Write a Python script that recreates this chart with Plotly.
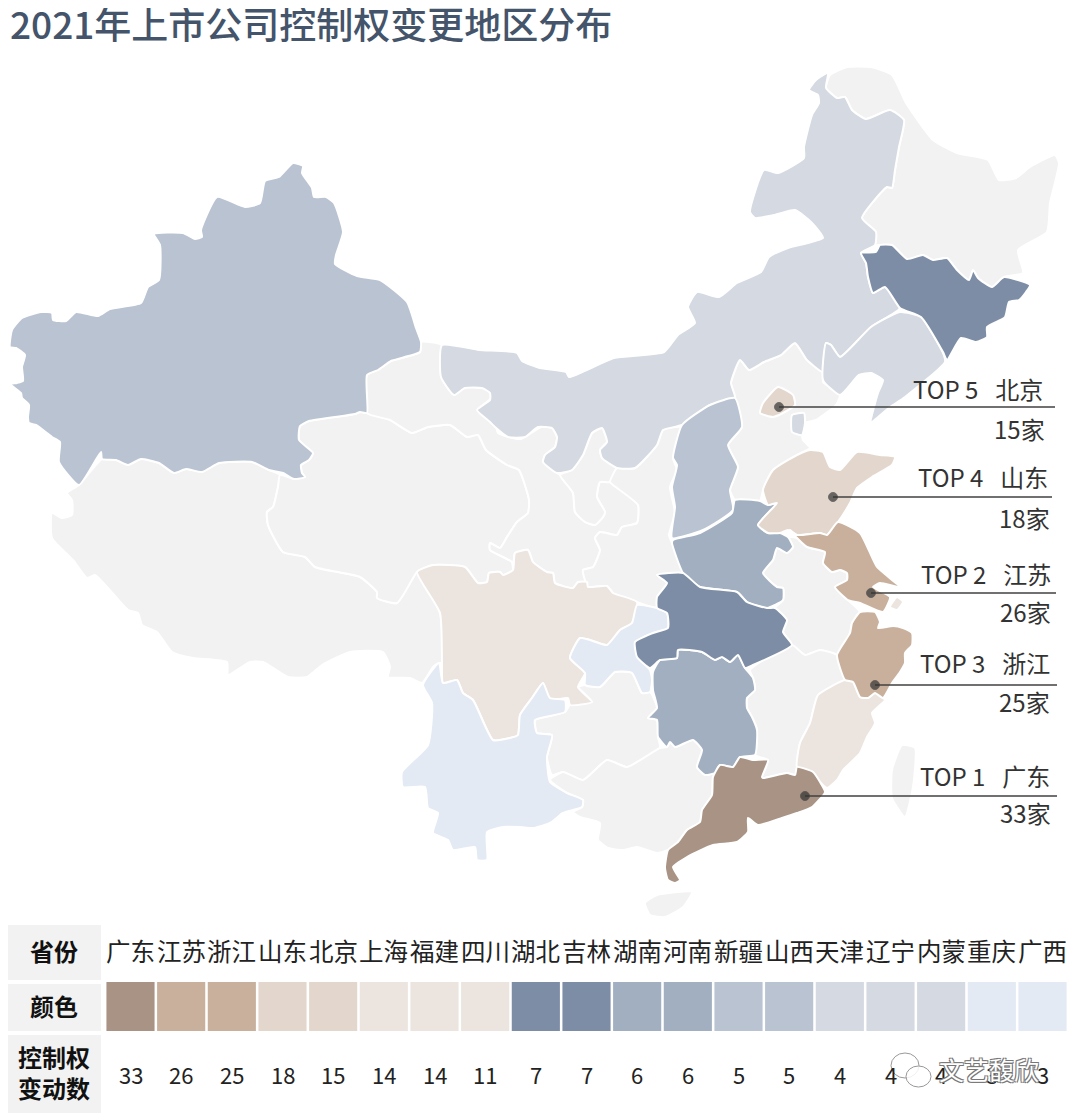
import plotly.graph_objects as go

# table at the bottom
provinces = ['广东', '江苏', '浙江', '山东', '北京', '上海', '福建', '四川', '湖北', '吉林',
             '湖南', '河南', '新疆', '山西', '天津', '辽宁', '内蒙', '重庆', '广西']
counts = [33, 26, 25, 18, 15, 14, 14, 11, 7, 7, 6, 6, 5, 5, 4, 4, 4, 3, 3]
cell_colors = ['#a89384', '#c9b09c', '#c9b09c', '#e3d7cd', '#e3d7cd', '#ece5df', '#ece5df', '#ece5df',
               '#7c8da5', '#7c8da5', '#a1afc0', '#a1afc0', '#b9c3d1', '#b9c3d1',
               '#d4d9e2', '#d4d9e2', '#d4d9e2', '#e3eaf4', '#e3eaf4']

# callouts
top_ranks = ['TOP 5', 'TOP 4', 'TOP 2', 'TOP 3', 'TOP 1']
top_names = ['北京', '山东', '江苏', '浙江', '广东']

NO_DATA = '#f2f2f2'

# province outlines
xinjiang = [(293,163),(303,166),(302,173),(312,188),(314,197),(326,197),(334,203),(343,232),(336,255),(335,264),
            (357,276),(380,280),(407,302),(416,328),(421,342),(420,352),(391,361),(378,370),(367,375),(367,413),
            (360,412),(355,414),(309,421),(300,426),(299,440),(313,453),(309,460),(301,465),(302,473),(305,477),
            (294,479),(283,473),(269,470),(252,462),(219,463),(202,472),(186,469),(174,473),(159,463),(141,459),
            (128,465),(116,460),(102,459),(101,452),(79,485),(59,462),(60,442),(52,437),(36,425),(29,423),(28,417),
            (29,405),(22,398),(21,393),(10,384),(17,383),(23,381),(22,367),(25,355),(16,348),(10,347),(12,330),
            (22,318),(41,312),(52,313),(53,320),(66,321),(76,312),(98,316),(110,309),(141,303),(148,287),(159,280),
            (160,245),(154,234),(183,233),(195,239),(202,237),(201,230),(217,197),(245,207),(260,203),(265,181),(279,177)]
xizang = [(79,485),(102,459),(116,460),(128,465),(141,459),(159,463),(174,473),(186,469),(202,472),(219,463),
          (252,462),(269,470),(280,475),(278,487),(273,507),(267,512),(268,525),(283,552),(305,557),(315,567),
          (360,577),(377,592),(377,598),(397,603),(413,578),(417,572),(440,613),(442,663),(439,663),(433,667),
          (422,683),(410,678),(388,677),(390,667),(383,652),(350,652),(322,665),(307,677),(288,677),(263,662),
          (250,662),(228,675),(227,662),(193,658),(172,652),(157,632),(142,625),(138,613),(128,610),(95,575),
          (87,578),(73,560),(52,538),(52,513),(62,518),(72,515),(72,500),(67,493)]
qinghai = [(300,426),(309,421),(355,414),(360,412),(367,413),(390,420),(412,433),(428,427),(450,425),(467,437),
           (478,435),(486,450),(507,465),(519,470),(529,500),(528,513),(517,522),(507,537),(500,548),(490,543),
           (490,550),(512,562),(513,570),(503,575),(500,572),(489,573),(487,582),(478,583),(465,567),(433,565),
           (417,572),(413,578),(397,603),(377,598),(377,592),(360,577),(315,567),(305,557),(283,552),(268,525),
           (267,512),(273,507),(278,487),(280,475),(294,479),(305,477),(302,473),(301,465),(309,460),(313,453),(299,440)]
gansu = [(367,375),(378,370),(391,361),(420,352),(421,342),(442,345),(441,377),(454,395),(465,387),(490,390),
         (491,398),(478,410),(495,423),(498,433),(521,439),(541,427),(552,428),(557,437),(555,447),(545,455),
         (543,462),(557,473),(560,475),(573,493),(575,512),(585,522),(595,525),(603,517),(605,512),(597,497),
         (600,482),(610,482),(638,505),(637,523),(622,527),(617,535),(600,532),(595,538),(600,550),(593,567),
         (583,570),(587,582),(578,582),(573,588),(555,583),(553,573),(547,572),(533,562),(528,550),(515,553),
         (513,570),(512,562),(490,550),(490,543),(500,548),(507,537),(517,522),(528,513),(529,500),(519,470),
         (507,465),(486,450),(478,435),(467,437),(450,425),(428,427),(412,433),(390,420),(367,413)]
neimenggu = [(442,345),(479,350),(517,353),(522,361),(540,368),(566,372),(569,377),(614,358),(664,352),(678,335),
             (695,323),(688,307),(697,292),(719,297),(737,283),(761,272),(769,257),(788,248),(823,238),(812,223),
             (795,210),(774,215),(755,218),(750,212),(764,170),(778,173),(804,158),(804,147),(812,115),(819,103),
             (818,95),(809,90),(816,80),(828,73),(826,88),(837,98),(845,97),(852,110),(866,119),(890,110),(904,120),
             (899,147),(895,170),(892,188),(887,187),(862,218),(876,232),(875,245),(861,253),(866,263),(868,277),
             (873,293),(885,287),(900,308),(871,327),(840,357),(831,345),(826,343),(823,372),(807,360),(795,343),
             (781,355),(764,362),(749,370),(740,360),(731,383),(735,398),(710,405),(682,425),(663,430),(657,445),
             (635,468),(617,468),(602,458),(600,450),(607,442),(602,428),(592,433),(583,455),(572,470),(557,473),
             (543,462),(545,455),(555,447),(557,437),(552,428),(538,427),(525,437),(508,437),(495,427),(490,422),
             (477,410),(490,400),(490,393),(482,388),(465,388),(454,395),(441,377)]
heilongjiang = [(830,75),(826,88),(837,98),(845,97),(852,110),(866,119),(890,110),(904,120),(899,147),(895,170),
                (892,188),(887,187),(862,218),(876,232),(875,245),(880,245),(892,245),(907,259),(923,255),(933,260),
                (947,258),(957,270),(969,280),(973,270),(978,278),(992,287),(1004,277),(1023,273),(1018,250),
                (1047,232),(1050,203),(1059,163),(1055,155),(1030,167),(1016,178),(999,180),(988,160),(957,153),
                (933,140),(906,103),(892,75),(871,67),(847,67)]
jilin = [(861,253),(876,252),(880,245),(892,245),(907,259),(923,255),(933,260),(947,258),(957,270),(969,280),
         (973,270),(978,278),(992,287),(1004,277),(1030,285),(1026,292),(1019,300),(1009,302),(1005,317),(987,327),
         (987,337),(976,342),(961,338),(947,360),(943,352),(921,317),(900,308),(885,287),(873,293),(868,277),(866,263)]
liaoning = [(823,380),(826,343),(831,345),(840,357),(871,327),(900,312),(921,317),(943,353),(945,362),(905,397),
            (890,407),(871,422),(878,393),(883,380),(871,373),(859,375),(840,395)]
hebei = [(731,383),(740,360),(749,370),(764,362),(781,355),(795,343),(807,360),(823,372),(823,382),(840,395),
         (836,405),(816,420),(805,423),(802,435),(803,440),(810,448),(797,455),(773,470),(763,490),(760,501),
         (735,500),(730,490),(738,467),(728,445),(742,427),(735,398)]
beijing = [(778,387),(793,395),(795,405),(783,413),(773,417),(760,413),(763,403)]
tianjin = [(792,415),(804,413),(805,423),(802,435),(792,432)]
shanxi = [(682,425),(710,405),(735,398),(742,427),(728,445),(738,467),(730,490),(733,510),(703,530),(672,538),
          (675,507),(672,487),(677,465),(673,458)]
shaanxi = [(617,468),(635,468),(657,445),(663,430),(683,427),(673,458),(677,470),(670,487),(675,513),(669,535),
           (672,543),(685,572),(657,575),(667,583),(657,597),(657,608),(637,602),(613,593),(607,586),(588,587),
           (583,570),(593,567),(600,550),(595,538),(600,532),(617,535),(622,527),(637,523),(638,505),(613,485),(610,482)]
ningxia = [(560,475),(572,470),(583,455),(592,433),(602,428),(607,442),(600,450),(602,458),(617,468),(610,482),
           (600,482),(597,497),(605,512),(603,517),(595,525),(585,522),(575,512),(573,493)]
henan = [(673,540),(700,533),(732,513),(735,500),(760,501),(768,505),(777,503),(758,525),(768,533),(780,533),
         (788,537),(793,547),(787,553),(777,548),(773,560),(763,573),(777,587),(783,588),(783,600),(767,608),
         (747,602),(737,592),(700,587),(683,573),(672,543)]
shandong = [(758,525),(777,503),(768,505),(763,490),(773,470),(797,455),(810,450),(823,452),(830,467),(840,470),
            (857,452),(880,455),(895,457),(892,465),(872,477),(857,488),(850,503),(838,522),(827,535),(820,533),
            (797,535),(788,530),(780,533),(768,533)]
jiangsu = [(790,530),(797,535),(820,533),(827,535),(838,522),(860,533),(877,567),(900,587),(880,583),(873,587),
           (890,597),(883,612),(860,603),(848,600),(835,587),(847,580),(847,573),(840,570),(832,572),(823,563),
           (825,552),(807,547),(797,538)]
shanghai = [(897,597),(903,602),(897,610),(890,607)]
anhui = [(763,573),(773,560),(777,548),(787,553),(793,547),(788,537),(797,538),(807,547),(825,552),(823,563),
         (832,572),(840,570),(847,573),(847,580),(835,587),(848,600),(860,612),(852,623),(850,633),(837,655),
         (820,650),(805,655),(792,645),(783,632),(787,620),(775,608),(783,600),(783,588),(777,587)]
zhejiang = [(860,612),(875,612),(880,622),(878,628),(893,626),(903,628),(912,633),(912,645),(905,653),(905,663),
            (900,672),(892,683),(883,698),(875,693),(868,698),(860,697),(853,682),(845,680),(837,655),(850,633),(852,623)]
hubei = [(657,575),(683,573),(700,587),(737,592),(747,602),(767,608),(775,608),(787,620),(783,632),(792,645),
         (753,665),(745,668),(738,655),(730,662),(722,657),(715,660),(702,652),(678,650),(677,658),(660,660),
         (650,668),(637,657),(635,642),(653,633),(668,628),(667,613),(657,608),(657,597),(667,583)]
chongqing = [(637,605),(657,608),(667,613),(668,628),(653,633),(635,642),(638,657),(650,670),(652,680),(650,692),
             (642,693),(632,673),(615,672),(600,687),(585,685),(585,673),(570,658),(580,638),(590,640),(607,645),
             (620,630),(632,623)]
sichuan = [(417,572),(433,565),(465,567),(478,583),(487,582),(489,573),(500,572),(503,575),(513,570),(515,553),
           (528,550),(533,562),(547,572),(553,573),(555,583),(573,588),(578,582),(587,582),(588,587),(607,586),
           (613,593),(637,602),(632,623),(620,630),(607,645),(590,640),(580,638),(570,658),(585,673),(578,687),
           (592,702),(570,705),(568,698),(550,700),(543,683),(532,698),(520,715),(518,735),(510,738),(493,740),
           (473,700),(463,693),(457,680),(443,683),(442,663),(440,613)]
yunnan = [(439,663),(443,683),(457,680),(463,693),(473,700),(493,740),(510,738),(518,735),(520,715),(532,698),
          (543,683),(550,698),(565,700),(565,712),(535,720),(537,733),(552,735),(547,757),(550,782),(567,793),
          (583,800),(582,807),(563,813),(550,823),(533,828),(520,827),(503,827),(487,832),(487,860),(477,860),
          (475,847),(453,850),(448,840),(433,833),(438,813),(428,808),(425,787),(403,787),(402,772),(428,745),
          (432,703),(423,685)]
guizhou = [(535,720),(565,712),(570,705),(592,702),(578,687),(585,685),(600,687),(615,672),(632,673),(642,693),
           (650,692),(657,708),(648,718),(657,720),(658,737),(660,748),(627,767),(607,760),(583,780),(563,772),
           (552,775),(547,757),(552,735),(537,733)]
hunan = [(653,672),(660,660),(677,658),(678,650),(702,652),(715,660),(722,657),(730,662),(738,655),(745,668),
         (753,678),(755,690),(747,698),(747,708),(752,717),(757,730),(755,755),(740,757),(733,767),(720,765),
         (715,773),(705,775),(697,767),(702,750),(693,740),(675,747),(670,742),(667,747),(658,737),(657,720),
         (648,718),(657,708),(653,690)]
jiangxi = [(750,670),(792,645),(805,655),(820,650),(837,655),(845,680),(818,695),(810,723),(800,743),(797,767),
           (795,775),(787,773),(763,778),(762,777),(768,760),(755,755),(757,730),(752,717),(747,708),(747,698),
           (755,690),(753,678)]
fujian = [(845,680),(853,682),(860,697),(868,698),(875,693),(885,700),(872,713),(875,723),(867,737),(860,753),
          (843,770),(837,780),(827,788),(820,782),(813,772),(797,767),(800,743),(810,723),(818,695)]
guangdong = [(740,757),(753,760),(768,760),(762,777),(763,778),(787,773),(795,775),(797,767),(813,772),(820,782),
             (825,792),(812,807),(797,813),(782,818),(758,825),(748,818),(748,832),(737,842),(713,845),(687,857),
             (673,867),(680,880),(675,883),(668,880),(665,868),(668,850),(678,842),(687,830),(700,822),(702,810),
             (712,795),(713,777),(720,765),(733,767)]
guangxi = [(550,780),(563,772),(583,780),(607,760),(627,767),(660,748),(667,747),(670,742),(675,747),(693,740),
           (702,750),(697,767),(705,775),(715,773),(713,777),(712,795),(702,810),(700,822),(687,830),(678,842),
           (668,850),(657,853),(637,847),(623,850),(608,848),(598,840),(600,823),(580,817),(573,812),(582,807),
           (583,800),(567,793)]
hainan = [(645,903),(657,895),(692,892),(683,907),(665,917),(650,915)]
taiwan = [(902,745),(915,748),(913,787),(905,817),(892,798),(892,770)]

shapes_by_name = {
    '西藏': xizang, '青海': qinghai, '甘肃': gansu, '宁夏': ningxia, '陕西': shaanxi, '河北': hebei,
    '黑龙江': heilongjiang, '安徽': anhui, '江西': jiangxi, '贵州': guizhou, '广西': guangxi,
    '海南': hainan, '台湾': taiwan, '新疆': xinjiang, '内蒙': neimenggu, '辽宁': liaoning, '天津': tianjin,
    '山西': shanxi, '河南': henan, '湖南': hunan, '四川': sichuan, '福建': fujian, '上海': shanghai,
    '云南': yunnan, '重庆': chongqing, '山东': shandong, '北京': beijing, '江苏': jiangsu, '浙江': zhejiang,
    '广东': guangdong, '湖北': hubei, '吉林': jilin,
}
color_of = dict(zip(provinces, cell_colors))
color_of['广西'] = NO_DATA      # the map leaves 广西 grey and paints 云南 with its shade
color_of['云南'] = '#e3eaf4'
count_of = dict(zip(provinces, counts))

# page body has an 8px margin, so the figure is 8px smaller and the axes start at 8
PAGE_W, PAGE_H, BODY = 1076, 1119, 8
FIG_W, FIG_H = PAGE_W - BODY, PAGE_H - BODY

fig = go.Figure()

# Draw the map
for name, outline in shapes_by_name.items():
    xs = [p[0] for p in outline] + [outline[0][0]]
    ys = [p[1] for p in outline] + [outline[0][1]]
    fig.add_trace(go.Scatter(x=xs, y=ys, mode='lines', fill='toself', name=name,
                             fillcolor=color_of.get(name, NO_DATA),
                             line=dict(color='white', width=2, shape='spline', smoothing=0.5),
                             showlegend=False, hoverinfo='name'))

# Callout lines
callout_y_text = {'北京': (1045, 388, 428, 1047), '山东': (1050, 476, 517, 1052), '江苏': (1053, 573, 611, 1053),
                  '浙江': (1052, 662, 701, 1052), '广东': (1052, 775, 812, 1053)}
callout_line = {'北京': (779, 407, 1055), '山东': (833, 497, 1052), '江苏': (871, 593, 1056),
                '浙江': (875, 685, 1057), '广东': (805, 796, 1057)}
for name in top_names:
    x0, y0, x1 = callout_line[name]
    fig.add_trace(go.Scatter(x=[x0, x1], y=[y0, y0], mode='lines+markers', showlegend=False,
                             line=dict(color='#404040', width=1.5),
                             marker=dict(size=[9, 0], color='#333333'), hoverinfo='skip'))

# Colour row of the table
fig.add_trace(go.Bar(x=provinces, y=[1] * len(provinces), marker_color=cell_colors, width=0.95,
                     marker_line_width=0, xaxis='x2', yaxis='y2', showlegend=False,
                     customdata=counts, hovertemplate='%{x}: %{customdata}<extra></extra>'))

cjk = 'Noto Sans CJK SC'
annotations = [dict(text='2021年上市公司控制权变更地区分布', x=8, y=23, xref='x', yref='y', xanchor='left',
                    showarrow=False, font=dict(size=37, color='#44546a', family=cjk, weight=500))]

for rank, name in zip(top_ranks, top_names):
    right, y_top, y_bottom, right_bottom = callout_y_text[name]
    annotations.append(dict(text=rank + '\u2002\u2009' + name, x=right, y=y_top, xref='x', yref='y', xanchor='right',
                            showarrow=False, font=dict(size=24, color='#333333', family=cjk)))
    annotations.append(dict(text=f'{count_of[name]}家', x=right_bottom, y=y_bottom, xref='x', yref='y', xanchor='right',
                            showarrow=False, font=dict(size=24, color='#333333', family=cjk)))

for name, value in zip(provinces, counts):
    annotations.append(dict(text=name, x=name, y=950, xref='x2', yref='y', showarrow=False,
                            font=dict(size=24.5, color='#222222', family=cjk)))
    annotations.append(dict(text=str(value), x=name, y=1074, xref='x2', yref='y', showarrow=False,
                            font=dict(size=22, color='#222222', family=cjk)))

header_cells = [('省份', 925, 980), ('颜色', 984, 1031), ('控制权<br>变动数', 1035, 1113)]
shapes = []
for label, top, bottom in header_cells:
    shapes.append(dict(type='rect', xref='x', yref='y', x0=5, x1=101, y0=top, y1=bottom,
                       fillcolor=NO_DATA, line_width=0))
    annotations.append(dict(text=label, x=54, y=(top + bottom) / 2 - 2, xref='x', yref='y', showarrow=False,
                            font=dict(size=24, color='#111111', family=cjk, weight='bold')))

# watermark over the last counts
for x0, y0, x1, y1 in [(891, 1053, 919, 1078), (906, 1066, 931, 1087)]:
    shapes.append(dict(type='circle', xref='x', yref='y', x0=x0, x1=x1, y0=y0, y1=y1,
                       fillcolor='rgba(255,255,255,0.85)', line=dict(color='#999999', width=1)))
annotations.append(dict(text='文艺馥欣', x=989, y=1069, xref='x', yref='y', showarrow=False,
                        font=dict(size=25, color='white', family=cjk,
                                  shadow='1px 1px 0 #777, -1px -1px 0 #777, 1px -1px 0 #777, -1px 1px 0 #777')))

fig.update_layout(
    width=FIG_W, height=FIG_H, autosize=False,
    margin=dict(l=0, r=0, t=0, b=0),
    paper_bgcolor='white', plot_bgcolor='white',
    showlegend=False,
    annotations=annotations, shapes=shapes,
    xaxis=dict(range=[BODY, PAGE_W], visible=False, domain=[0, 1]),
    yaxis=dict(range=[PAGE_H, BODY], visible=False, domain=[0, 1]),
    xaxis2=dict(domain=[(104 - BODY) / FIG_W, (1069 - BODY) / FIG_W], anchor='y2', type='category',
                categoryorder='array', categoryarray=provinces, visible=False),
    yaxis2=dict(domain=[1 - (1031 - BODY) / FIG_H, 1 - (982 - BODY) / FIG_H], anchor='x2', range=[0, 1], visible=False),
)

fig.write_html("out.html")
